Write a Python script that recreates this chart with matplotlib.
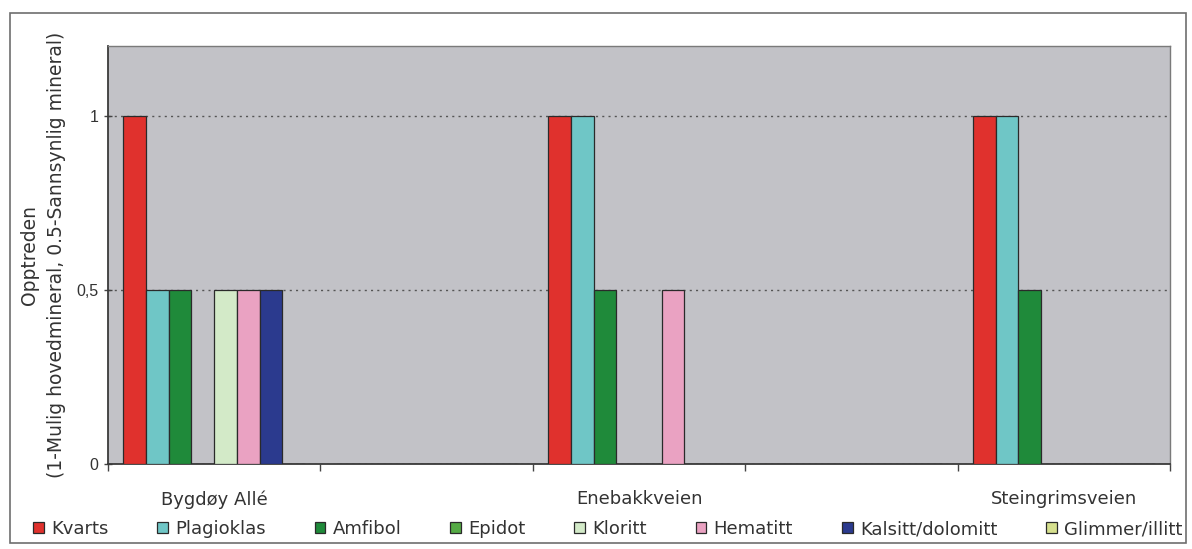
import matplotlib
matplotlib.use("Agg")
import matplotlib.pyplot as plt
from matplotlib.patches import Rectangle
from matplotlib.ticker import FuncFormatter
import numpy as np

plt.rcParams['font.family'] = ['DejaVu Sans']

# Sites along the x axis (blank slots separate the three sites)
categories = ["Bygdøy Allé", "", "Enebakkveien", "", "Steingrimsveien"]

# Occurrence per mineral: 1 = possible main mineral, 0.5 = probable mineral
kvarts = [1.0, 0, 1.0, 0, 1.0]
plagioklas = [0.5, 0, 1.0, 0, 1.0]
amfibol = [0.5, 0, 0.5, 0, 0.5]
epidot = [0, 0, 0, 0, 0]
kloritt = [0.5, 0, 0, 0, 0]
hematitt = [0.5, 0, 0.5, 0, 0]
kalsitt_dolomitt = [0.5, 0, 0, 0, 0]
glimmer_illitt = [0, 0, 0, 0, 0]

series_names = ["Kvarts", "Plagioklas", "Amfibol", "Epidot", "Kloritt",
                "Hematitt", "Kalsitt/dolomitt", "Glimmer/illitt"]
series_values = [kvarts, plagioklas, amfibol, epidot, kloritt,
                 hematitt, kalsitt_dolomitt, glimmer_illitt]
series_colors = ["#e0312d", "#6fc6c6", "#1f8a3a", "#55ab45", "#d3eac8",
                 "#eaa2c2", "#2b3a8e", "#d6e08e"]

W, H = 1192, 549
fig = plt.figure(figsize=(W / 100, H / 100), dpi=100)
fig.patch.set_facecolor("white")

# outer chart frame
fig.add_artist(Rectangle((10 / W, 1 - 543 / H), 1176 / W, 530 / H,
                         transform=fig.transFigure, fill=False,
                         edgecolor="#6e6e6e", linewidth=1.2))

ax = fig.add_axes([108 / W, 1 - 464 / H, (1170 - 108) / W, (464 - 46) / H])
ax.set_facecolor("#c2c2c7")

n = len(series_names)
bar_w = 0.107
x = np.arange(len(categories))
for i, (name, vals, col) in enumerate(zip(series_names, series_values, series_colors)):
    offs = (i - (n - 1) / 2) * bar_w
    ax.bar(x + offs, vals, width=bar_w, color=col, edgecolor="#2a2a2a",
           linewidth=0.9, label=name, zorder=3)

ax.set_xlim(-0.5, len(categories) - 0.5)
ax.set_ylim(0, 1.2)

ax.set_yticks([0, 0.5, 1])
ax.yaxis.set_major_formatter(FuncFormatter(
    lambda v, p: ("%g" % v).replace(".", ",")))
ax.grid(axis="y", which="major", linestyle=(0, (1.5, 3)), color="#555555",
        linewidth=1.0, zorder=1)

ax.set_xticks(x)
ax.set_xticklabels(categories, fontsize=13, color="#333333")
ax.set_xticks(np.arange(-0.5, len(categories), 1.0), minor=True)
ax.tick_params(axis="x", which="major", length=0, pad=19)
ax.tick_params(axis="x", which="minor", length=5, direction="out",
               color="#444444", width=1.0)
ax.tick_params(axis="y", which="major", length=6, direction="inout",
               color="#444444", width=1.0, pad=4, labelcolor="#333333")
for lbl in ax.get_yticklabels():
    lbl.set_family("Liberation Sans")
    lbl.set_fontsize(11.5)

for side in ["left", "bottom"]:
    ax.spines[side].set_color("#3a3a3a")
    ax.spines[side].set_linewidth(1.3)
for side in ["top", "right"]:
    ax.spines[side].set_color("#7a7a7a")
    ax.spines[side].set_linewidth(1.0)

# two-line y axis title
ymid = 1 - 255 / H
fig.text(29 / W, ymid, "Opptreden", rotation=90, ha="center", va="center",
         fontsize=13.5, color="#333333")
fig.text(57 / W, ymid, "(1-Mulig hovedmineral, 0.5-Sannsynlig mineral)",
         rotation=90, ha="center", va="center", fontsize=13.5, color="#333333")

leg = fig.legend(loc="center left", bbox_to_anchor=(33 / W, 1 - 529 / H),
                 ncol=n, frameon=False, fontsize=13,
                 handlelength=0.6, handleheight=0.6, handletextpad=0.4,
                 columnspacing=2.7, borderaxespad=0, borderpad=0)
for t in leg.get_texts():
    t.set_color("#333333")

fig.savefig("out.png", dpi=100, facecolor="white")
